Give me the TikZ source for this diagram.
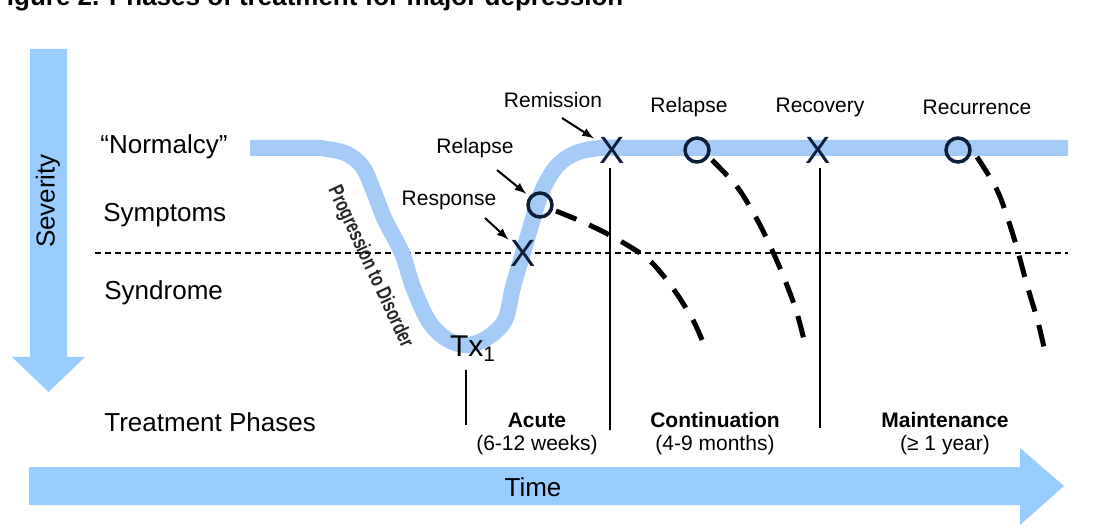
\documentclass[tikz,border=0pt]{standalone}
\usepackage{fontspec}
\setmainfont{Liberation Sans}
\usetikzlibrary{arrows}
\definecolor{bandblue}{RGB}{163,203,245}
\definecolor{arrowblue}{RGB}{153,204,255}
\definecolor{marknavy}{RGB}{12,30,58}
\tikzset{
  band/.style={line width=8pt,bandblue,line cap=butt},
  bigarrow/.style={fill=arrowblue,draw=none},
  lbl/.style={font=\fontsize{13}{15}\selectfont},
  level/.style={lbl,anchor=west,inner sep=0pt},
  small/.style={font=\fontsize{10.5}{12}\selectfont},
  phase/.style={font=\fontsize{10.5}{12}\selectfont\bfseries},
  xmark/.style={text=marknavy,font=\fontsize{19}{19}\selectfont,inner sep=0pt},
  omark/.style={circle,draw=marknavy,line width=1.75pt,minimum size=12pt,inner sep=0pt},
  trend/.style={line width=2.5pt,dash pattern=on 11pt off 7pt},
  callout/.style={line width=1pt,-latex},
  divider/.style={line width=0.6pt},
  threshold/.style={line width=0.8pt,dash pattern=on 3pt off 2pt}
}
\begin{document}
\begin{tikzpicture}[x=0.5pt,y=-0.5pt]
\useasboundingbox (0,0) rectangle (1104,529);
% title, cut at the top
\node[anchor=base west,font=\fontsize{13}{15}\selectfont\bfseries] (title) at (-16,6) {Figure 2. Phases of treatment for major depression};
% big arrows
\fill[bigarrow] (30,49) -- (67,49) -- (67,357) -- (85,357) -- (48.5,392) -- (12,357) -- (30,357) -- cycle;
\fill[bigarrow] (29,467) -- (1020,467) -- (1020,448) -- (1064,486) -- (1020,525) -- (1020,505) -- (29,505) -- cycle;
\node[lbl,rotate=90] (sev) at (48,201) {Severity};
\node[lbl] (time) at (533,487) {Time};
% levels
\node[level] (norm) at (100,147) {“Normalcy”};
\node[level] (symp) at (103,215) {Symptoms};
\node[level] (synd) at (104,293) {Syndrome};
\node[level] (tph) at (104,422) {Treatment Phases};
\coordinate (thrL) at (95,253);
\coordinate (thrR) at (1068,253);
\draw[threshold] (thrL) -- (thrR);
% course of the illness
\draw[band] (250,148) -- plot[smooth,tension=0.55] coordinates {(320,148) (345,153) (362,166) (372,187) (385,220) (402,253) (413,287) (428,320) (445,338) (466,345) (487,338) (505,320) (513,287) (523,253) (532,222) (542,191) (557,166) (576,153) (600,148) (625,148)} -- (1068,148);
\node[rotate=-65,xscale=0.73,font=\fontsize{10.5}{12}\selectfont\bfseries,text=black!85] (prog) at (370,267) {Progression to Disorder};
\node[anchor=base west,font=\fontsize{15}{17}\selectfont] (tx) at (443,357) {Tx\textsubscript{1}};
% relapse trends
\draw[trend] plot[smooth] coordinates {(556,211) (585,223) (615,238) (648,259) (672,287) (693,320) (707,352)};
\draw[trend] plot[smooth] coordinates {(712,160) (738,188) (760,225) (780,268) (796,310) (806,348)};
\draw[trend] plot[smooth] coordinates {(977,157) (998,192) (1014,238) (1027,285) (1038,322) (1045,352)};
% markers
\node[xmark] (resp) at (523,253) {X};
\node[omark] (relA) at (540,205) {};
\node[xmark] (remi) at (612,150) {X};
\node[omark] (relB) at (697,150) {};
\node[xmark] (recov) at (818,150) {X};
\node[omark] (recur) at (958,150) {};
% labels
\node[small] (respL) at (449,200) {Response};
\node[small] (relAL) at (475,148) {Relapse};
\node[small] (remiL) at (553,100) {Remission};
\node[small] (relBL) at (689,107) {Relapse};
\node[small] (recovL) at (820,107) {Recovery};
\node[small] (recurL) at (977,107) {Recurrence};
\coordinate (respT) at (485,218);
\coordinate (relAT) at (497,170);
\coordinate (remiT) at (562,118);
\draw[callout,shorten >=1pt] (respT) -- (resp);
\draw[callout,shorten >=2pt] (relAT) -- (relA);
\draw[callout,shorten >=3pt] (remiT) -- (remi);
% phases
\coordinate (txB) at (466,425);
\coordinate (acB) at (610,430);
\coordinate (coB) at (820,428);
\draw[divider] (466,370) -- (txB);
\draw[divider] (610,168) -- (acB);
\draw[divider] (820,168) -- (coB);
\node[phase] (acute) at (537,420) {Acute};
\node[small] (acuteD) at (537,445) {(6-12 weeks)};
\node[phase] (cont) at (715,420) {Continuation};
\node[small] (contD) at (715,445) {(4-9 months)};
\node[phase] (maint) at (945,420) {Maintenance};
\node[small] (maintD) at (945,445) {(≥ 1 year)};
\end{tikzpicture}
\end{document}
